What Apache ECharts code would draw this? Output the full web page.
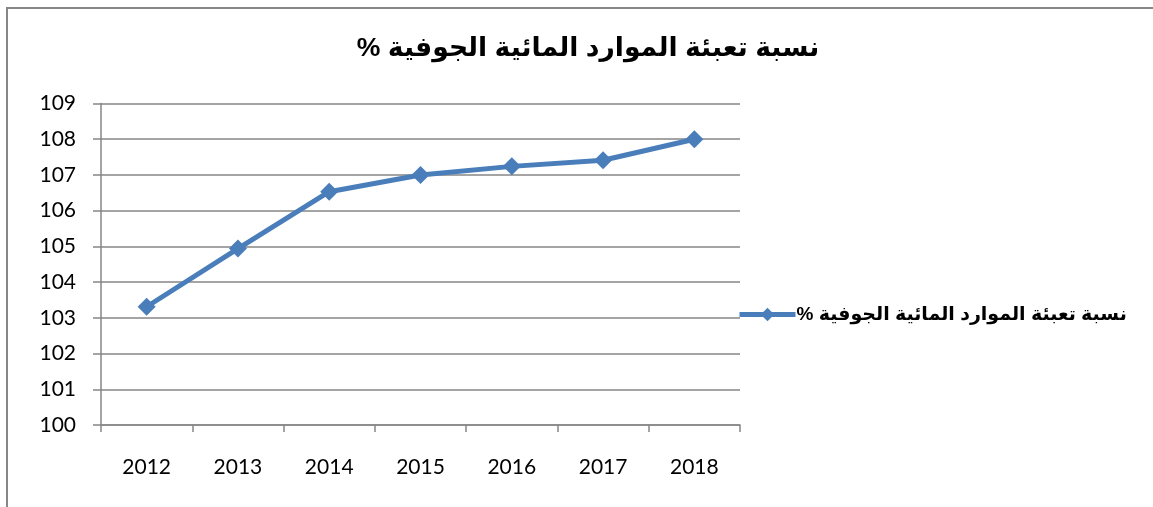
<!DOCTYPE html>
<html>
<head>
<meta charset="utf-8">
<script src="https://cdn.jsdelivr.net/npm/echarts@6/dist/echarts.min.js"></script>
<style>
  html, body { margin: 0; padding: 0; background: #fff; }
  #chart { width: 1153px; height: 507px; }
</style>
</head>
<body>
<div id="chart"></div>
<script>
// 数据
var seriesName = "نسبة تعبئة الموارد المائية الجوفية %\u200F";
var years = ["2012", "2013", "2014", "2015", "2016", "2017", "2018"];
var ratio = [103.31, 104.94, 106.53, 107.0, 107.24, 107.41, 108.0];
var yTicks = { min: 100, max: 109, interval: 1 };

var arabicFont = '"Liberation Sans", "DejaVu Sans", sans-serif';
var numFont = 'Lato, "Liberation Sans", sans-serif';

var myChart = echarts.init(document.getElementById("chart"));

var option = {
  backgroundColor: "#fff",
  animation: false,
  // 外框
  graphic: [
    {
      type: "rect",
      shape: { x: 7, y: 8, width: 1200, height: 600 },
      style: { fill: "none", stroke: "#878787", lineWidth: 2 }
    }
  ],
  title: {
    text: seriesName,
    left: 583,
    top: 30,
    textAlign: "center",
    textStyle: {
      fontFamily: arabicFont,
      fontWeight: "bold",
      fontSize: 26.6,
      color: "#000"
    }
  },
  legend: {
    left: 737,
    top: 305,
    padding: 0,
    itemWidth: 56,
    itemHeight: 17,
    lineStyle: { width: 5 },
    textStyle: {
      fontFamily: arabicFont,
      fontWeight: "bold",
      fontSize: 19,
      color: "#000",
      padding: [0, 0, 0, -4]
    },
    data: [seriesName]
  },
  grid: {
    left: 101,
    right: 413,
    top: 103.5,
    bottom: 82,
    containLabel: false
  },
  xAxis: {
    type: "category",
    data: years,
    boundaryGap: true,
    axisLine: { lineStyle: { color: "#868686", width: 1.5 } },
    axisTick: { show: true, length: 7, lineStyle: { color: "#868686", width: 1.5 } },
    axisLabel: {
      margin: 32,
      fontFamily: numFont,
      fontSize: 21,
      color: "#000"
    }
  },
  yAxis: {
    type: "value",
    min: yTicks.min,
    max: yTicks.max,
    interval: yTicks.interval,
    axisLine: { show: true, lineStyle: { color: "#868686", width: 1.5 } },
    axisTick: { show: true, length: 8, lineStyle: { color: "#868686", width: 1.5 } },
    splitLine: { show: true, lineStyle: { color: "#868686", width: 1.5 } },
    axisLabel: {
      margin: 25,
      fontFamily: numFont,
      fontSize: 21,
      color: "#000"
    }
  },
  series: [
    {
      name: seriesName,
      type: "line",
      data: ratio,
      symbol: "diamond",
      symbolSize: 18,
      itemStyle: { color: "#4a7ebb" },
      lineStyle: { color: "#4a7ebb", width: 5 }
    }
  ]
};

myChart.setOption(option);
</script>
</body>
</html>
